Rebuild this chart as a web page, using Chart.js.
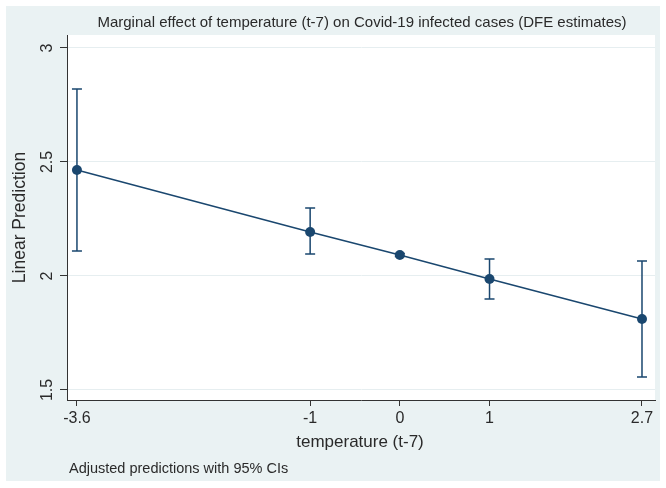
<!DOCTYPE html>
<html>
<head>
<meta charset="utf-8">
<script src="https://cdn.jsdelivr.net/npm/chart.js@4.4.1/dist/chart.umd.min.js"></script>
<style>
  html, body { margin: 0; padding: 0; background: #fff; }
  #wrap { width: 666px; height: 488px; }
</style>
</head>
<body>
<div id="wrap"><canvas id="marginsChart" width="666" height="488"></canvas></div>
<script>
// values
const temps = [-3.6, -1, 0, 1, 2.7];
const prediction = [2.465, 2.193, 2.092, 1.987, 1.811];
const ciLower = [2.110, 2.096, 2.085, 1.899, 1.557];
const ciUpper = [2.820, 2.298, 2.099, 2.075, 2.066];
const yTicks = [1.5, 2, 2.5, 3];

const navy = '#1a476f';
const bgBlue = '#eaf2f3';
const textCol = '#2a2a2a';
const font = 'Liberation Sans, Arial, sans-serif';

// stata-ish frame, error bars and rotated labels
const stataLook = {
    id: 'stataLook',
    beforeDraw(chart) {
        const c = chart.ctx, a = chart.chartArea;
        c.save();
        c.fillStyle = bgBlue;
        c.fillRect(6, 6, 654, 475);
        c.fillStyle = '#fff';
        c.fillRect(a.left, a.top, a.right - a.left, a.bottom - a.top);
        c.restore();
    },
    beforeDatasetsDraw(chart) {
        const c = chart.ctx;
        const xs = chart.scales.x, ys = chart.scales.y;
        c.save();
        c.strokeStyle = navy;
        c.lineWidth = 1.5;
        temps.forEach((t, i) => {
            const x = xs.getPixelForValue(t);
            const y1 = ys.getPixelForValue(ciLower[i]);
            const y2 = ys.getPixelForValue(ciUpper[i]);
            c.beginPath();
            c.moveTo(x, y1); c.lineTo(x, y2);
            c.moveTo(x - 5, y1); c.lineTo(x + 5, y1);
            c.moveTo(x - 5, y2); c.lineTo(x + 5, y2);
            c.stroke();
        });
        c.restore();
    },
    afterDraw(chart) {
        const c = chart.ctx, a = chart.chartArea;
        const ys = chart.scales.y;
        c.save();
        c.fillStyle = textCol;
        // y tick labels, rotated like stata
        c.font = '16px ' + font;
        c.textAlign = 'center';
        c.textBaseline = 'middle';
        yTicks.forEach(v => {
            c.save();
            c.translate(48, ys.getPixelForValue(v));
            c.rotate(-Math.PI / 2);
            c.fillText(String(v), 0, 0);
            c.restore();
        });
        // y title
        c.save();
        c.translate(20, (a.top + a.bottom) / 2);
        c.rotate(-Math.PI / 2);
        c.font = '17.5px ' + font;
        c.fillText('Linear Prediction', 0, 0);
        c.restore();
        // title
        c.font = '15px ' + font;
        c.fillText('Marginal effect of temperature (t-7) on Covid-19 infected cases (DFE estimates)', 362, 23);
        // x title
        c.font = '17px ' + font;
        c.fillText('temperature (t-7)', 360, 442);
        // note
        c.font = '14.5px ' + font;
        c.textAlign = 'left';
        c.fillText('Adjusted predictions with 95% CIs', 69, 469);
        c.restore();
    }
};

const ctx = document.getElementById('marginsChart').getContext('2d');
const marginsChart = new Chart(ctx, {
    type: 'line',
    data: {
        datasets: [{
            data: temps.map((t, i) => ({ x: t, y: prediction[i] })),
            borderColor: navy,
            backgroundColor: navy,
            borderWidth: 1.5,
            pointRadius: 5,
            pointBorderWidth: 0,
            tension: 0
        }]
    },
    options: {
        responsive: false,
        animation: false,
        layout: { padding: { left: 6, top: 35, right: 11, bottom: 8 } },
        plugins: {
            legend: { display: false },
            tooltip: { enabled: false }
        },
        scales: {
            x: {
                type: 'linear',
                min: -3.711,
                max: 2.845,
                afterBuildTicks: s => { s.ticks = temps.map(v => ({ value: v })); },
                afterFit: s => { s.height = 80; },
                grid: { drawOnChartArea: false, tickLength: 6, tickColor: '#333' },
                border: { color: '#333', width: 1 },
                ticks: {
                    color: textCol,
                    font: { family: font, size: 16 },
                    padding: 3,
                    maxRotation: 0,
                    autoSkip: false,
                    callback: v => String(v)
                }
            },
            y: {
                min: 1.456,
                max: 3.057,
                afterBuildTicks: s => { s.ticks = yTicks.map(v => ({ value: v })); },
                afterFit: s => { s.width = 61; },
                grid: { color: '#e6eef0', tickLength: 7, tickColor: '#333', lineWidth: 1 },
                border: { color: '#333', width: 1 },
                ticks: { display: false }
            }
        }
    },
    plugins: [stataLook]
});
</script>
</body>
</html>
